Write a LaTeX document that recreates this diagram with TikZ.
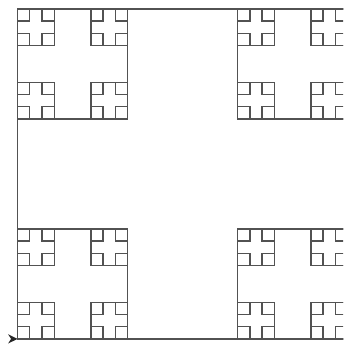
\documentclass[tikz,border=0pt]{standalone}
\begin{document}
\begin{tikzpicture}[x=1pt,y=-1pt,
  frac/.style={draw=black!68, line width=1.35pt},
  turtle/.style={fill=black!85, draw=none}]
\useasboundingbox (0,0) rectangle (343,345);
\clip (0,0) rectangle (343,345);
\def\X{17.6}\def\Y{8.9}\def\S{330}
\draw[frac] (\X,\Y) rectangle ++(\S,\S);
\foreach \a in {0,2} \foreach \b in {0,2} {
  \draw[frac] ({\X+\a*\S/3},{\Y+\b*\S/3}) rectangle ++({\S/3},{\S/3});
  \foreach \c in {0,2} \foreach \d in {0,2} {
    \draw[frac] ({\X+\a*\S/3+\c*\S/9},{\Y+\b*\S/3+\d*\S/9}) rectangle ++({\S/9},{\S/9});
    \foreach \e in {0,2} \foreach \f in {0,2}
      \draw[frac] ({\X+\a*\S/3+\c*\S/9+\e*\S/27},{\Y+\b*\S/3+\d*\S/9+\f*\S/27}) rectangle ++({\S/27},{\S/27});
  }
}
\coordinate (tip) at (\X,{\Y+\S});
\fill[turtle] (tip) -- ++(-9.5,-4.6) -- ++(3,4.6) -- ++(-3,4.6) -- cycle;
\end{tikzpicture}
\end{document}
